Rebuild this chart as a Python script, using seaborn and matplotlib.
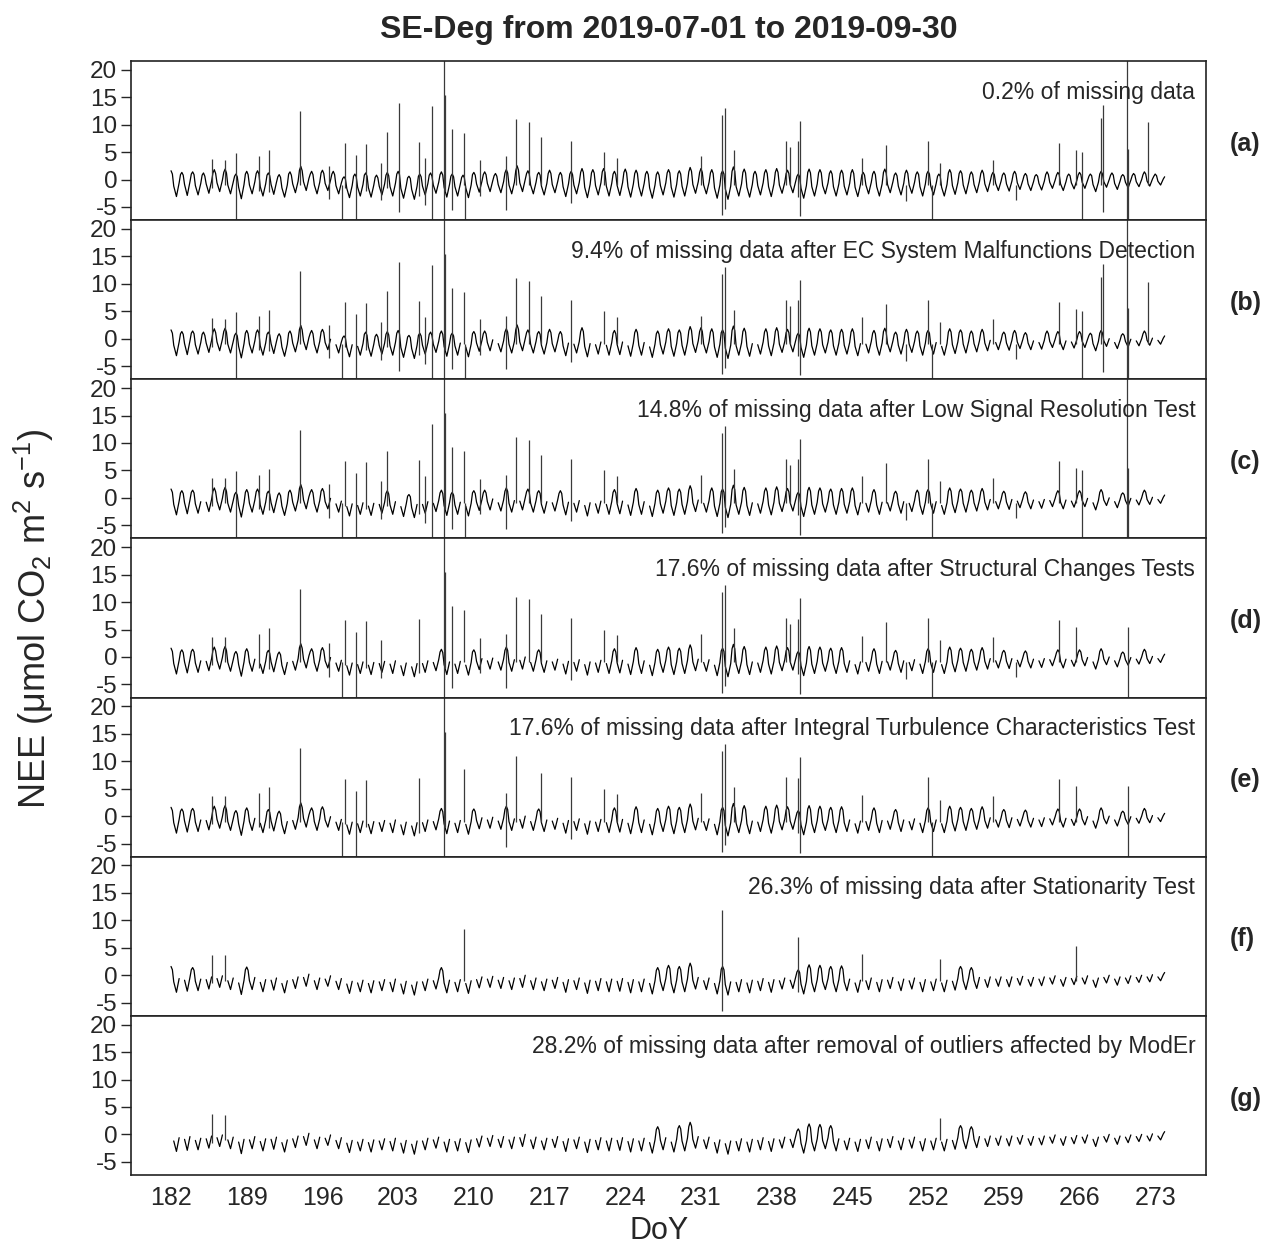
import numpy as np
import pandas as pd
import matplotlib
matplotlib.use("Agg")
import matplotlib.pyplot as plt
import seaborn as sns

# ---------------- data ----------------
doy_days = list(range(182, 274))          # DoY 182 .. 273
# sampling slots within a day: 00h, 03h, 06h, 12h, 18h, 21h
hour_offsets = [0.0, 0.125, 0.25, 0.5, 0.75, 0.875]

nee_h00 = [1.6, 1.3, 1.4, 1.2, 1.8, 1.9, 1.0,
           1.5, 1.6, 1.2, 0.9, 1.4, 2.4, 1.5,
           1.7, 1.5, 0.5, 1.0, 1.2, 0.8, 1.3,
           1.5, 0.6, 1.0, 1.2, 1.4, 1.0, 0.8,
           1.3, 1.4, 1.1, 1.8, 2.5, 1.6, 1.3,
           1.7, 1.3, 1.5, 2.0, 1.8, 2.0, 1.5,
           1.9, 1.7, 1.5, 1.4, 1.8, 1.6, 2.2,
           2.0, 1.8, 1.6, 2.3, 1.9, 1.5, 1.8,
           2.0, 1.7, 1.0, 1.9, 1.8, 1.6, 1.7,
           1.8, 1.3, 1.5, 1.9, 1.2, 1.7, 1.4,
           1.5, 1.0, 1.8, 1.6, 1.4, 1.7, 1.3,
           1.2, 1.5, 1.1, 0.9, 1.4, 1.3, 1.0,
           1.3, 1.0, 1.5, 1.2, 0.9, 1.1, 1.4, 1.0]
nee_h03 = [1.0, 0.8, 0.9, 0.6, 1.1, 1.2, 0.5,
           0.9, 1.0, 0.7, 0.4, 0.8, 1.6, 0.9,
           1.1, 0.9, 0.1, 0.5, 0.6, 0.3, 0.7,
           0.9, 0.2, 0.5, 0.6, 0.8, 0.5, 0.3,
           0.8, 0.9, 0.6, 1.2, 1.7, 1.0, 0.8,
           1.1, 0.8, 0.9, 1.3, 1.2, 1.3, 0.9,
           1.2, 1.1, 0.9, 0.8, 1.2, 1.0, 1.5,
           1.3, 1.1, 1.0, 1.5, 1.2, 0.9, 1.1,
           1.3, 1.1, 0.5, 1.2, 1.2, 1.0, 1.1,
           1.1, 0.8, 0.9, 1.2, 0.7, 1.1, 0.9,
           1.0, 0.6, 1.2, 1.1, 0.9, 1.1, 0.9,
           0.8, 1.0, 0.7, 0.6, 0.9, 0.9, 0.7,
           0.9, 0.7, 1.0, 0.8, 0.6, 0.8, 1.0, 0.7]
nee_h06 = [-1.2, -0.9, -1.1, -0.8, -0.6, -1.0, -1.4,
           -1.0, -1.3, -0.9, -1.5, -0.8, -0.4, -1.0,
           -0.7, -1.1, -1.6, -1.4, -1.5, -1.2, -1.3,
           -1.6, -1.8, -1.2, -1.0, -1.4, -1.3, -1.5,
           -0.8, -0.7, -0.9, -1.0, -0.6, -1.0, -1.2,
           -0.9, -1.3, -1.0, -1.4, -1.1, -1.2, -1.1,
           -1.3, -1.2, -1.5, -1.1, -1.4, -1.2, -0.9,
           -1.0, -1.5, -1.7, -1.3, -1.4, -1.1, -1.3,
           -1.0, -0.9, -1.6, -1.3, -1.1, -1.3, -1.2,
           -1.4, -1.0, -1.3, -0.9, -1.2, -1.0, -1.3,
           -1.2, -1.4, -1.1, -1.0, -0.9, -0.8, -0.7,
           -0.8, -0.6, -0.8, -0.7, -0.5, -0.8, -0.6,
           -0.5, -0.9, -0.4, -0.7, -0.5, -0.4, -0.3, -0.3]
nee_h12 = [-3.1, -2.9, -2.8, -2.5, -2.2, -2.6, -3.5,
           -2.6, -3.0, -2.7, -3.2, -2.4, -2.0, -2.6,
           -2.0, -2.6, -3.3, -3.0, -3.2, -2.8, -3.0,
           -3.4, -3.6, -2.8, -2.5, -3.2, -3.0, -3.3,
           -2.3, -2.2, -2.4, -2.6, -2.2, -2.6, -2.8,
           -2.4, -3.1, -2.6, -3.3, -2.8, -3.0, -2.9,
           -3.2, -3.0, -3.4, -2.8, -3.2, -3.0, -2.5,
           -2.6, -3.4, -3.6, -3.0, -3.2, -2.8, -3.1,
           -2.5, -2.4, -3.4, -3.0, -2.6, -3.0, -2.8,
           -3.1, -2.6, -3.0, -2.4, -2.8, -2.5, -3.0,
           -2.8, -3.0, -2.7, -2.6, -2.4, -2.2, -2.0,
           -2.1, -1.8, -2.0, -1.9, -1.6, -2.0, -1.7,
           -1.6, -2.2, -1.4, -1.8, -1.5, -1.3, -1.2, -1.0]
nee_h18 = [-0.6, -0.4, -0.7, -0.3, -0.1, -0.5, -0.9,
           -0.4, -0.8, -0.5, -1.0, -0.3, 0.2, -0.5,
           -0.1, -0.6, -1.1, -0.9, -1.0, -0.8, -0.7,
           -1.1, -1.2, -0.7, -0.5, -0.9, -0.8, -1.0,
           -0.3, -0.2, -0.4, -0.5, 0.0, -0.5, -0.7,
           -0.4, -0.8, -0.5, -0.9, -0.6, -0.7, -0.6,
           -0.8, -0.7, -1.0, -0.6, -0.9, -0.7, -0.4,
           -0.5, -1.0, -1.2, -0.8, -0.9, -0.6, -0.8,
           -0.5, -0.4, -1.1, -0.8, -0.6, -0.8, -0.7,
           -0.9, -0.5, -0.8, -0.4, -0.7, -0.5, -0.8,
           -0.7, -0.9, -0.6, -0.5, -0.4, -0.3, -0.3,
           -0.3, -0.2, -0.4, -0.3, -0.1, -0.4, -0.2,
           -0.1, -0.5, 0.0, -0.3, -0.1, 0.0, 0.1, 0.1]
nee_h21 = [0.9, 1.0, 0.8, 1.2, 1.3, 0.6, 1.0,
           1.1, 0.8, 0.5, 1.0, 1.7, 1.0, 1.2,
           1.0, 0.2, 0.6, 0.8, 0.4, 0.8, 1.0,
           0.3, 0.6, 0.8, 0.9, 0.6, 0.4, 0.9,
           0.9, 0.7, 1.2, 1.6, 1.1, 0.9, 1.1,
           0.8, 1.0, 1.3, 1.2, 1.4, 1.0, 1.3,
           1.1, 1.0, 0.9, 1.2, 1.1, 1.4, 1.3,
           1.2, 1.1, 1.5, 1.3, 1.0, 1.2, 1.3,
           1.1, 0.6, 1.3, 1.2, 1.1, 1.1, 1.2,
           0.8, 1.0, 1.3, 0.8, 1.1, 0.9, 1.0,
           0.6, 1.2, 1.1, 0.9, 1.1, 0.8, 0.8,
           1.0, 0.7, 0.6, 0.9, 0.8, 0.6, 0.8,
           0.6, 1.0, 0.8, 0.6, 0.7, 0.9, 0.6, 0.5]

# nights removed by each successive filtering step (day of the night's midnight)
night_drop_b = [197, 199, 209, 212, 219, 221, 222, 224, 226, 236, 246, 253,
                258, 262, 265, 269, 271, 273]
night_drop_c = [185, 198, 200, 201, 203, 205, 206, 214, 217, 220, 231, 248,
                250, 260, 263, 267]
night_drop_d = [190, 193, 202, 204, 208, 211, 215, 218, 232, 245, 251]
night_drop_e = []
night_drop_f = [183, 186, 187, 188, 191, 192, 194, 195, 196, 210, 213, 216,
                223, 225, 234, 235, 237, 238, 239, 247, 249, 252, 254, 257,
                259, 261, 264, 266, 268, 270, 272]
night_drop_g = [182, 184, 189, 207, 228, 233, 244]

# short spikes: position, top, bottom, last panel index where still present
spike_doy = [185.8, 187.0, 188.0, 190.1, 191.1, 193.9, 196.6, 197.8, 198.1,
             199.1, 200.0, 201.4, 202.0, 203.1, 204.9, 205.5, 206.1, 207.2,
             207.3, 208.0, 209.1, 209.15, 210.6, 213.0, 213.9, 215.1, 216.2,
             219.0, 222.0, 223.2, 231.0, 233.2, 232.9, 234.1, 238.9, 239.2,
             240.2, 240.0, 245.9, 248.1, 250.0, 252.0, 252.4, 253.1, 258.0,
             260.1, 264.1, 265.7, 266.2, 268.0, 268.2, 270.4, 270.45, 272.3]
spike_top = [3.7, 3.6, 4.9, 4.2, 5.3, 12.4, 2.5, -1.0, 6.7,
             4.5, 6.5, 3.0, 8.6, 14.0, 6.9, 4.0, 13.4, 40.0,
             15.4, 9.2, 8.5, -1.0, 3.5, 4.2, 11.0, 10.5, 7.8,
             7.1, 5.0, 4.0, 4.2, 13.1, 11.8, 5.3, 7.1, 6.0,
             10.7, 7.0, 3.9, 6.3, -1.0, 7.1, -1.0, 3.0, 3.6,
             -1.0, 6.7, 5.4, 5.0, 11.2, 13.6, 40.0, 5.5, 10.4]
spike_bot = [-1.5, -1.0, -9.0, -2.0, -2.2, -1.0, -3.6, -9.0, -1.5,
             -9.0, -2.0, -3.8, -1.5, -5.9, -3.0, -4.6, -9.0, -40.0,
             -2.0, -5.6, -1.0, -9.0, -3.0, -5.6, -1.0, -1.0, -1.0,
             -4.2, -1.0, -1.0, -1.0, -5.3, -6.5, -1.0, -1.0, -1.0,
             -6.7, -3.1, -1.0, -1.0, -4.0, -1.0, -9.0, -1.0, -1.0,
             -3.7, -1.0, -1.0, -9.0, -1.0, -6.0, -40.0, -9.0, -1.0]
spike_last = [6, 6, 2, 4, 4, 4, 3, 4, 4,
              4, 4, 3, 2, 1, 4, 2, 2, 4,
              4, 3, 5, 2, 3, 4, 4, 3, 4,
              4, 4, 4, 4, 4, 5, 4, 4, 3,
              4, 5, 5, 3, 3, 4, 4, 6, 4,
              3, 4, 5, 2, 1, 1, 2, 4, 1]

panel_letters = ["(a)", "(b)", "(c)", "(d)", "(e)", "(f)", "(g)"]
panel_notes = [
    "0.2% of missing data",
    "9.4% of missing data after EC System Malfunctions Detection",
    "14.8% of missing data after Low Signal Resolution Test",
    "17.6% of missing data after Structural Changes Tests",
    "17.6% of missing data after Integral Turbulence Characteristics Test",
    "26.3% of missing data after Stationarity Test",
    "28.2% of missing data after removal of outliers affected by ModEr",
]
x_ticks = [182, 189, 196, 203, 210, 217, 224, 231, 238, 245, 252, 259, 266, 273]
y_ticks = [-5, 0, 5, 10, 15, 20]
title = "SE-Deg from 2019-07-01 to 2019-09-30"

# ---------------- build table ----------------
slot_values = [nee_h00, nee_h03, nee_h06, nee_h12, nee_h18, nee_h21]
rows = []
for i, d in enumerate(doy_days):
    for k, off in enumerate(hour_offsets):
        rows.append({"day": d, "slot": k, "doy": d + off,
                     "nee": slot_values[k][i]})
base = pd.DataFrame(rows)

drops = [[], night_drop_b, night_drop_c, night_drop_d, night_drop_e,
         night_drop_f, night_drop_g]
spikes = pd.DataFrame({"doy": spike_doy, "top": spike_top,
                       "bot": spike_bot, "last": spike_last})

# ---------------- style ----------------
sns.set_style("ticks")
plt.rcParams["font.family"] = ["Liberation Sans", "DejaVu Sans"]
plt.rcParams["axes.unicode_minus"] = False
plt.rcParams["mathtext.fontset"] = "custom"
plt.rcParams["mathtext.rm"] = "Liberation Sans"
plt.rcParams["mathtext.it"] = "Liberation Sans"

fig, axes = plt.subplots(7, 1, figsize=(12.61, 12.5), dpi=100, sharex=True)
fig.subplots_adjust(left=0.1039, right=0.9564, top=0.9512, bottom=0.06, hspace=0)

removed = set()
for p, ax in enumerate(axes):
    removed |= set(drops[p])
    df = base.copy()
    night_here = (df["slot"].isin([0, 1])) & (df["day"].isin(removed))
    night_prev = (df["slot"] == 5) & ((df["day"] + 1).isin(removed))
    df.loc[night_here | night_prev, "nee"] = np.nan
    df["seg"] = df["nee"].isna().cumsum()
    df = df.dropna(subset=["nee"])
    sns.lineplot(data=df, x="doy", y="nee", units="seg", estimator=None,
                 color="black", lw=0.9, ax=ax, legend=False)
    sp = spikes[spikes["last"] >= p]
    ax.vlines(sp["doy"], sp["bot"], sp["top"], color="#3a3a3a", lw=0.9)

    ax.set_xlim(178.3, 277.7)
    ax.set_ylim(-7.4, 21.6)
    ax.set_yticks(y_ticks)
    ax.set_yticklabels([str(v) for v in y_ticks])
    ax.set_xticks(x_ticks)
    ax.set_xlabel("")
    ax.set_ylabel("")
    ax.tick_params(axis="y", length=7, width=1, labelsize=17.5, pad=3)
    ax.tick_params(axis="x", length=0, labelsize=18, pad=8)
    for s in ax.spines.values():
        s.set_visible(True)
        s.set_linewidth(1.2)
        s.set_color("#222222")
    ax.text(0.99, 0.805, panel_notes[p], transform=ax.transAxes,
            ha="right", va="center", fontsize=16.5)
    ax.text(1.022, 0.48, panel_letters[p], transform=ax.transAxes,
            ha="left", va="center", fontsize=18, fontweight="bold")

axes[-1].set_xticklabels([str(v) for v in x_ticks])

fig.text(0.53, 0.976, title, ha="center", va="center", fontsize=23,
         fontweight="bold")
fig.text(0.523, 0.015, "DoY", ha="center", va="center", fontsize=22)
fig.text(0.027, 0.505, "NEE (μmol CO$_2$ m$^2$ s$^{-1}$)", ha="center",
         va="center", rotation=90, fontsize=26)

fig.savefig("out.png", dpi=100)
